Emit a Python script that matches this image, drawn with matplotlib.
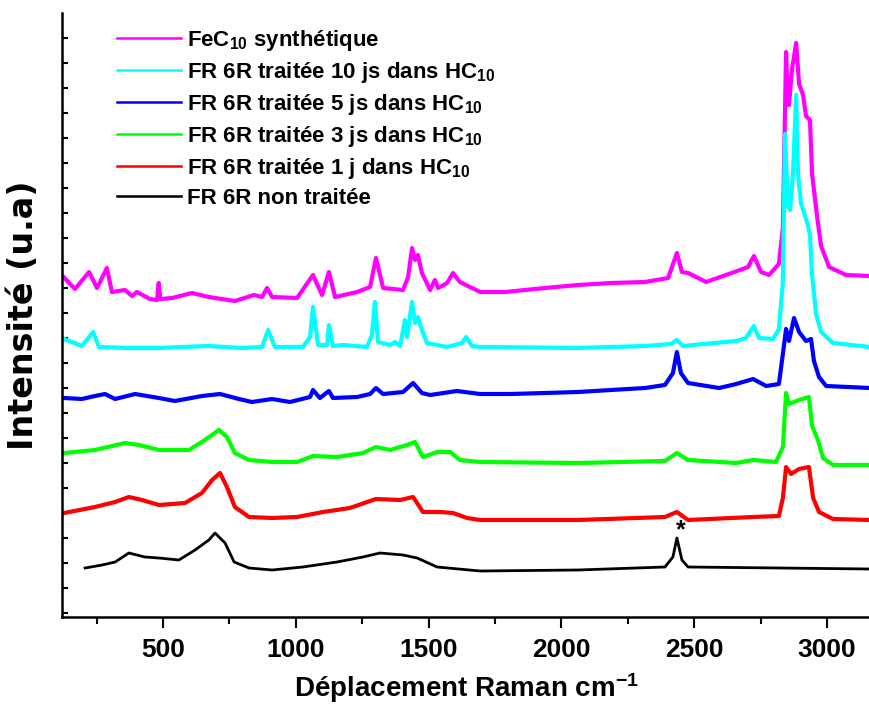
import matplotlib
matplotlib.use("Agg")
import matplotlib.pyplot as plt

plt.rcParams['font.family'] = ['Liberation Sans', 'DejaVu Sans']
plt.rcParams['font.weight'] = 'bold'
plt.rcParams['mathtext.fontset'] = 'custom'
plt.rcParams['mathtext.rm'] = 'Liberation Sans:bold'
plt.rcParams['mathtext.bf'] = 'Liberation Sans:bold'
plt.rcParams['mathtext.default'] = 'bf'

# ---- data (wavenumber cm-1, stacked intensity a.u.) ----
fec10_x = [126, 169, 222, 252, 289, 308, 357, 384, 402, 451, 478, 484, 490, 534, 609, 673, 771, 843, 873, 892, 911,
           1005, 1065, 1099, 1125, 1148, 1231, 1280, 1302, 1329, 1404, 1423, 1438, 1449, 1460, 1475, 1506,
           1524, 1536, 1570, 1592, 1618, 1694, 1788, 1938, 2063, 2187, 2315, 2402, 2435, 2454, 2477, 2545, 2620,
           2703, 2725, 2752, 2782, 2819, 2834, 2846, 2853, 2857, 2868, 2884, 2895, 2910, 2921, 2936, 2944, 2963,
           2978, 3008, 3072, 3162]
fec10_y = [340, 328, 345, 329, 349, 325, 327, 321, 325, 318, 317, 334, 318, 319, 324, 320, 316, 322, 320, 329, 320,
           319, 342, 322, 345, 320, 325, 330, 359, 329, 327, 340, 369, 357, 362, 344, 327, 337, 329, 334, 344,
           335, 325, 325, 329, 332, 334, 335, 339, 364, 345, 344, 335, 342, 350, 361, 345, 342, 353, 389, 565, 512,
           512, 547, 574, 533, 522, 501, 497, 443, 400, 371, 350, 342, 341]

hc10_10_x = [128, 195, 237, 259, 372, 485, 572, 673, 798, 873, 896, 911, 922, 1027, 1054, 1065, 1084, 1118, 1125,
             1140, 1178, 1268, 1287, 1298, 1310, 1355, 1374, 1393, 1411, 1419, 1438, 1449, 1460, 1475, 1494, 1570,
             1626, 1641, 1664, 1694, 2063, 2315, 2413, 2435, 2458, 2658, 2695, 2725, 2744, 2797, 2819, 2834, 2842,
             2853, 2861, 2872, 2884, 2891, 2902, 2914, 2929, 2936, 2944, 2959, 2978, 3023, 3162]
hc10_10_y = [278, 271, 285, 270, 269, 269, 270, 271, 269, 270, 287, 277, 270, 270, 280, 310, 272, 272, 292, 271,
             272, 270, 282, 315, 275, 272, 275, 271, 297, 280, 315, 294, 300, 287, 274, 270, 274, 280, 271, 270,
             269, 271, 273, 277, 271, 276, 279, 291, 279, 278, 288, 335, 483, 411, 407, 443, 522, 443, 414, 404,
             391, 382, 342, 303, 285, 274, 270]

hc10_5_x = [128, 195, 244, 282, 320, 395, 485, 545, 647, 715, 786, 835, 911, 978, 1054, 1065, 1091, 1125, 1140,
            1231, 1280, 1302, 1329, 1404, 1442, 1475, 1506, 1607, 1694, 1810, 1938, 2063, 2187, 2315, 2390, 2420,
            2435, 2450, 2477, 2594, 2658, 2722, 2771, 2819, 2834, 2846, 2857, 2876, 2895, 2921, 2940, 2951, 2970,
            2997, 3162]
hc10_5_y = [219, 218, 221, 223, 218, 223, 219, 216, 221, 223, 218, 215, 218, 215, 220, 227, 219, 226, 219, 220,
            223, 229, 223, 225, 234, 224, 222, 226, 223, 223, 224, 225, 227, 229, 232, 244, 265, 244, 234, 229,
            233, 238, 231, 233, 263, 288, 276, 299, 285, 276, 278, 256, 240, 231, 229]

hc10_3_x = [128, 244, 357, 410, 485, 598, 658, 711, 741, 771, 824, 911, 1005, 1065, 1155, 1253, 1302, 1355, 1419,
            1449, 1479, 1532, 1581, 1618, 1694, 2063, 2390, 2435, 2477, 2658, 2722, 2808, 2834, 2846, 2857, 2895,
            2932, 2944, 2966, 2985, 3023, 3162]
hc10_3_y = [164, 167, 174, 172, 167, 167, 177, 187, 180, 164, 157, 155, 155, 161, 160, 164, 170, 167, 172, 175,
            160, 165, 165, 157, 155, 154, 156, 164, 157, 154, 157, 155, 170, 224, 213, 217, 220, 191, 177, 159, 152,
            152]

hc10_1_x = [128, 244, 320, 372, 421, 485, 583, 647, 685, 715, 741, 771, 824, 911, 1005, 1103, 1204, 1302, 1393,
            1442, 1479, 1543, 1592, 1645, 1694, 2063, 2390, 2435, 2477, 2722, 2819, 2834, 2846, 2865, 2895, 2932,
            2948, 2970, 3023, 3162]
hc10_1_y = [104, 110, 115, 120, 117, 112, 114, 124, 137, 144, 130, 110, 100, 99, 100, 105, 109, 118, 117, 120,
            105, 105, 104, 99, 97, 97, 100, 105, 97, 100, 101, 119, 150, 143, 148, 150, 119, 105, 98, 97]

raw_x = [207, 271, 320, 372, 432, 485, 560, 621, 673, 696, 734, 768, 824, 911, 1027, 1155, 1253, 1317, 1404,
         1457, 1532, 1694, 2063, 2390, 2420, 2435, 2454, 2477, 3162]
raw_y = [49, 52, 55, 64, 60, 59, 57, 67, 77, 84, 74, 55, 49, 47, 50, 55, 60, 64, 62, 59, 50, 46, 47, 50, 60, 79, 57,
         50, 48]

labels = ['FeC$_{10}$ synthétique',
          'FR 6R traitée 10 js dans HC$_{10}$',
          'FR 6R traitée 5 js dans HC$_{10}$',
          'FR 6R traitée 3 js dans HC$_{10}$',
          'FR 6R traitée 1 j dans HC$_{10}$',
          'FR 6R non traitée']
colors = ['#ff00ff', '#00ffff', '#0000ff', '#00ff00', '#ff0000', '#000000']

star_x, star_y = 2450, 87

# ---- figure ----
fig = plt.figure(figsize=(8.70, 7.04), dpi=100)
ax = fig.add_axes([62 / 870, (704 - 617) / 704, 1 - 62 / 870, (617 - 13) / 704])

series = [(fec10_x, fec10_y), (hc10_10_x, hc10_10_y), (hc10_5_x, hc10_5_y),
          (hc10_3_x, hc10_3_y), (hc10_1_x, hc10_1_y), (raw_x, raw_y)]
for (xs, ys), lab, c in zip(series, labels, colors):
    lw = 2.0 if c == '#000000' else 3.0
    ax.plot(xs, ys, color=c, lw=lw, label=lab, solid_joinstyle='round')

ax.text(star_x, star_y, '*', ha='center', va='center', fontsize=18, fontweight='bold')

ax.set_xlim(120, 3162)
ax.set_ylim(0, 604)
ax.set_xticks([500, 1000, 1500, 2000, 2500, 3000])
ax.set_xticks([250, 750, 1250, 1750, 2250, 2750], minor=True)
ax.set_yticks(list(range(4, 600, 25)))
ax.set_yticklabels([])
ax.tick_params(axis='x', which='major', direction='out', length=8, width=1.5, pad=7, labelsize=19)
ax.tick_params(axis='x', which='minor', direction='out', length=5, width=1.5)
ax.tick_params(axis='y', which='major', direction='in', length=4, width=1.5, left=True)
for lab in ax.get_xticklabels():
    lab.set_fontweight('bold')

for s in ['top', 'right']:
    ax.spines[s].set_visible(False)
for s in ['left', 'bottom']:
    ax.spines[s].set_linewidth(1.8)

ax.set_xlabel('Déplacement Raman cm$^{-1}$', fontsize=20, fontweight='bold', labelpad=7)
ax.set_ylabel('Intensité (u.a)', fontsize=24, fontweight='bold', labelpad=12, family=['DejaVu Sans'])

leg = ax.legend(loc='upper left', bbox_to_anchor=(0.043, 1.008), frameon=False,
                handlelength=2.9, handletextpad=0.25, labelspacing=0.31,
                prop={'weight': 'bold', 'size': 16})
for h in leg.get_lines():
    h.set_linewidth(1.8)

fig.savefig('out.png', dpi=100)
